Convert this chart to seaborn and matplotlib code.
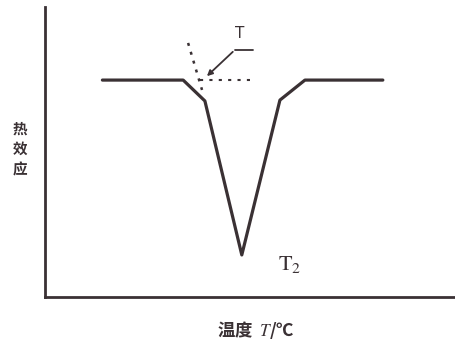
import matplotlib
matplotlib.use("Agg")
import matplotlib.pyplot as plt
import seaborn as sns
import pandas as pd

# DTA curve (arbitrary units)
temperature = [14, 33.7, 39, 48, 57.3, 63.4, 82.4]
heat_effect = [74.8, 74.8, 67.6, 14.5, 67.9, 74.8, 74.8]

# construction lines for onset T
tangent_x = [34.9, 38.3]
tangent_y = [87.6, 71.4]
base_x = [37.8, 50.0]
base_y = [74.8, 74.8]

sns.set_style("white")
plt.rcParams['font.family'] = ['Noto Sans CJK SC', 'DejaVu Sans']
plt.rcParams['mathtext.fontset'] = 'stix'

ink = "#3a3134"
df = pd.DataFrame({'T': temperature, 'q': heat_effect})

fig = plt.figure(figsize=(4.55, 3.44), dpi=100)
ax = fig.add_axes([45 / 455, 47 / 344, 410 / 455, 290 / 344])
sns.lineplot(data=df, x='T', y='q', ax=ax, color=ink, linewidth=2.3, sort=False)
ax.plot(tangent_x, tangent_y, color=ink, linestyle=(0, (1.2, 2.5)), linewidth=1.8)
ax.plot(base_x, base_y, color=ink, linestyle=(0, (1.5, 3)), linewidth=1.5)

# leader to the T label
ax.annotate("", xy=(39.0, 75.5), xytext=(46.3, 85.2),
            arrowprops=dict(arrowstyle="-|>", color=ink, lw=1.3, mutation_scale=8))
ax.plot([46.3, 50.7], [85.2, 85.2], color=ink, linewidth=1.3)
ax.text(47.6, 91, "T", fontsize=11, color=ink, ha='center', va='center',
        family=['DejaVu Sans'])
ax.text(59.8, 11.7, r"$\mathrm{T}_2$", fontsize=16, color=ink, ha='center', va='center')

ax.set_xlim(0, 100)
ax.set_ylim(0, 100)
ax.set_xticks([])
ax.set_yticks([])
ax.set_xlabel("")
ax.set_ylabel("")
sns.despine(ax=ax)
for s in ['left', 'bottom']:
    ax.spines[s].set_color(ink)
    ax.spines[s].set_linewidth(2.0)

fig.text(20 / 455, 1 - 149 / 344, "热\n效\n应", fontsize=10.5, color=ink,
         ha='center', va='center', linespacing=1.35, fontweight='bold')
fig.text(256 / 455, 1 - 330 / 344, r"温度  $\mathbf{\mathit{T}}$/℃", fontsize=12.5,
         color=ink, ha='center', va='center', fontweight='bold')

fig.savefig("out.png", dpi=100)
